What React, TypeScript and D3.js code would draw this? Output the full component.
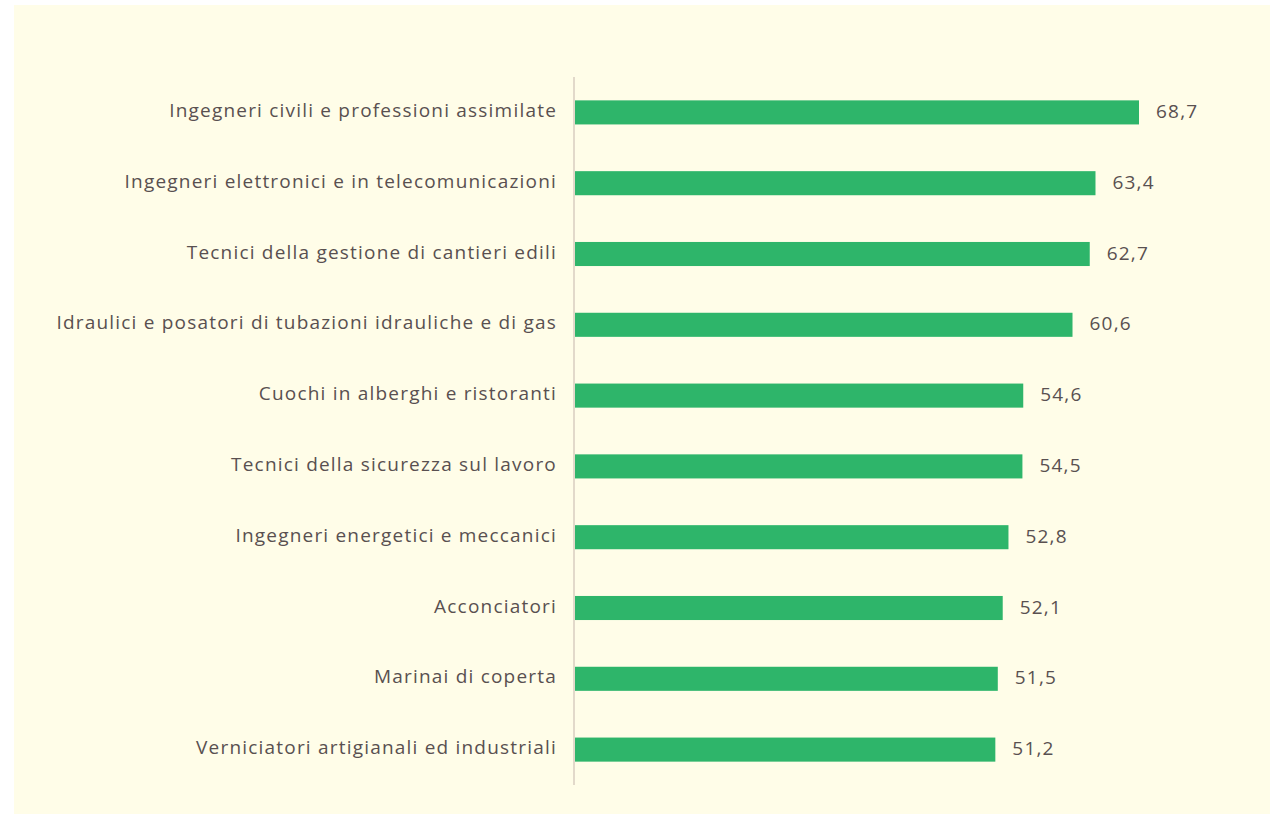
import React from "react";
import * as d3 from "d3";

const categories = [
  "Ingegneri civili e professioni assimilate",
  "Ingegneri elettronici e in telecomunicazioni",
  "Tecnici della gestione di cantieri edili",
  "Idraulici e posatori di tubazioni idrauliche e di gas",
  "Cuochi in alberghi e ristoranti",
  "Tecnici della sicurezza sul lavoro",
  "Ingegneri energetici e meccanici",
  "Acconciatori",
  "Marinai di coperta",
  "Verniciatori artigianali ed industriali",
];
const values = [68.7, 63.4, 62.7, 60.6, 54.6, 54.5, 52.8, 52.1, 51.5, 51.2];

const W = 1270;
const H = 814;
const axisX = 574;
const top = 77;
const bottom = 785;

export default function App() {
  const x = d3.scaleLinear().domain([0, 68.7]).range([axisX + 1, 1139]);
  const y = d3
    .scaleBand<string>()
    .domain(categories)
    .range([top, bottom])
    .paddingInner(0.66)
    .paddingOuter(0.33);
  const fmt = (v: number) => d3.format(".1f")(v).replace(".", ",");
  const font = "'Open Sans', 'Liberation Sans', sans-serif";
  return (
    <svg
      width={W}
      height={H}
      style={{ position: "absolute", left: 0, top: 0, background: "#fff" }}
    >
      <rect x={14} y={5} width={W - 14} height={H - 5} fill="#FFFDE8" />
      {categories.map((c, i) => {
        const yy = y(c)!;
        const bh = y.bandwidth();
        return (
          <g key={c}>
            <rect x={x(0)} y={yy} width={x(values[i]) - x(0)} height={bh} fill="#2EB56A" />
            <text
              x={557}
              y={yy + bh / 2 - 2}
              dy="0.35em"
              textAnchor="end"
              fontFamily={font}
              fontSize={19}
              fill="#595050"
              style={{ letterSpacing: "1.2px" }}
            >
              {c}
            </text>
            <text
              x={x(values[i]) + 17}
              y={yy + bh / 2 - 1}
              dy="0.35em"
              fontFamily={font}
              fontSize={19}
              fill="#595050"
              style={{ letterSpacing: "1.2px" }}
            >
              {fmt(values[i])}
            </text>
          </g>
        );
      })}
      <line x1={axisX} x2={axisX} y1={top} y2={bottom} stroke="#D9CCC0" strokeWidth={1.5} />
    </svg>
  );
}
